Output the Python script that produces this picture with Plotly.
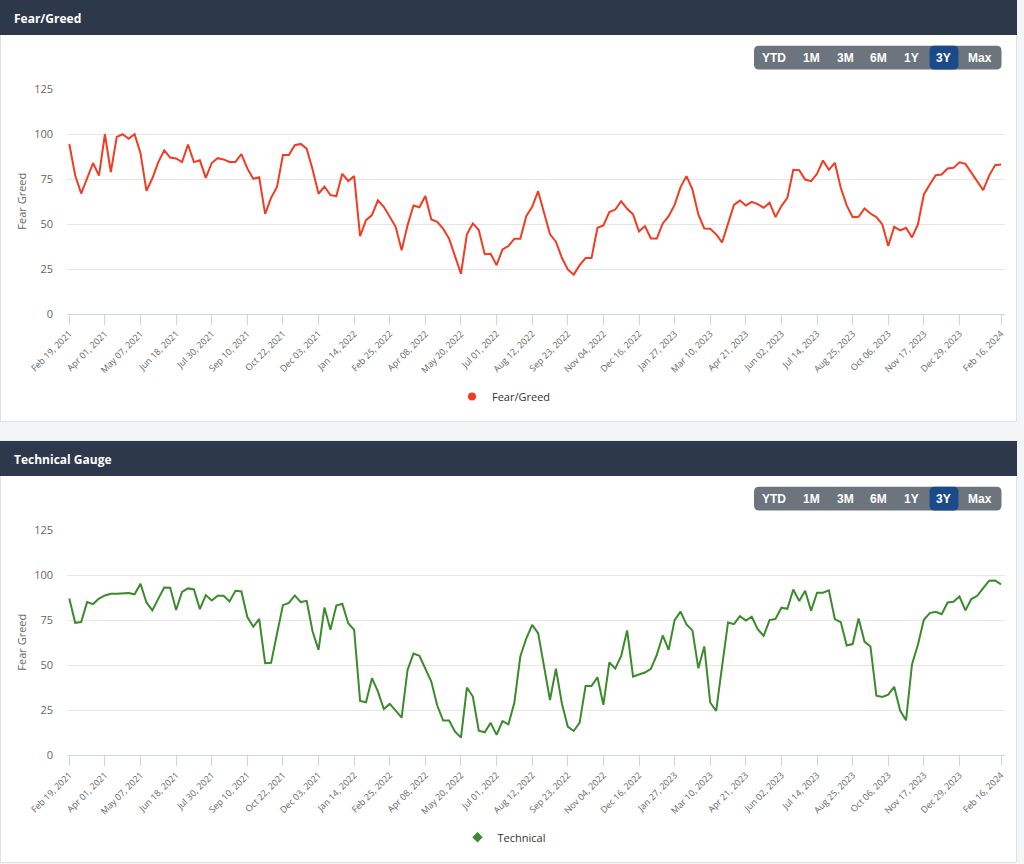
import plotly.graph_objects as go

# ---------------- data ----------------
tick_labels = ["Feb 19, 2021", "Apr 01, 2021", "May 07, 2021", "Jun 18, 2021", "Jul 30, 2021",
               "Sep 10, 2021", "Oct 22, 2021", "Dec 03, 2021", "Jan 14, 2022", "Feb 25, 2022",
               "Apr 08, 2022", "May 20, 2022", "Jul 01, 2022", "Aug 12, 2022", "Sep 23, 2022",
               "Nov 04, 2022", "Dec 16, 2022", "Jan 27, 2023", "Mar 10, 2023", "Apr 21, 2023",
               "Jun 02, 2023", "Jul 14, 2023", "Aug 25, 2023", "Oct 06, 2023", "Nov 17, 2023",
               "Dec 29, 2023", "Feb 16, 2024"]
tick_weeks = [0, 6, 12, 18, 24, 30, 36, 42, 48, 54, 60, 66, 72, 78, 84, 90, 96, 102, 108,
              114, 120, 126, 132, 138, 144, 150, 157]

fear_greed = [94.6, 77, 67, 75.5, 84, 77, 100, 79, 98.5, 100, 97.5, 100, 89.5, 68.5, 75.5, 84.5,
              91, 87, 86.5, 84.5, 94.3, 84.5, 85.5, 75.7, 84, 86.7, 86, 84.6, 84.6, 89, 81, 75.2,
              76.1, 55.7, 64.6, 70.7, 88.5, 88.5, 93.9, 94.6, 92, 80.4, 66.9, 70.9, 66.1, 65.6,
              78, 74, 76.7, 43.3, 52.2, 55, 63.2, 59.6, 54.4, 48.5, 35.4, 49.3, 60.4, 59.4, 65.6,
              52.6, 51.3, 47.4, 41.9, 32.2, 22.4, 44.3, 50.4, 46.7, 33.3, 33.5, 27.2, 35.9, 37.8,
              41.9, 41.9, 54.4, 59.6, 68.3, 56.7, 44.3, 40.2, 31.3, 24.8, 21.9, 27.2, 31.1, 31.1,
              48, 49.3, 56.7, 58.1, 62.8, 58.5, 55.4, 45.9, 48.9, 42, 42, 50.4, 54.4, 60.7, 70.6,
              76.7, 69.3, 55.4, 47.6, 47.4, 44.3, 39.8, 50.7, 60.7, 63.1, 60.4, 62.4, 61.1, 59.1,
              61.9, 53.9, 60, 64.6, 80.2, 80, 74.8, 73.9, 78, 85.4, 80.2, 84.1, 70.2, 60.4, 53.9,
              54.1, 58.7, 55.9, 53.9, 49.8, 37.8, 48.5, 46.5, 48, 42.6, 49.8, 66.5, 72, 77.2,
              77.6, 80.9, 81.3, 84.4, 83.5, 78.5, 73.5, 68.9, 77, 82.8, 83.1]

technical = [87, 73.5, 73.9, 85, 83.9, 87, 88.7, 89.6, 89.6, 89.6, 90, 89.3, 95.2, 84.8, 80.4,
             86.9, 93.1, 93, 80.6, 90.6, 92.6, 92, 81.1, 88.9, 85.9, 88.5, 88.5, 85.4, 91.3, 90.9,
             76.7, 71.3, 75.7, 51.1, 51.3, 67.4, 83.3, 84.6, 88.7, 85, 85.7, 68.7, 58.5, 82, 69.6,
             83.1, 84.1, 73.3, 69.6, 30.2, 29.4, 42.8, 35.5, 25.7, 28.5, 24.8, 20.9, 47.4, 56.5,
             55.2, 48.3, 40.9, 27.6, 19.3, 19.3, 13.1, 9.8, 37.6, 32.6, 13.7, 12.8, 18, 11.3, 18.9,
             17.2, 29.3, 54.8, 64.8, 72.4, 67.8, 49.3, 30.7, 48, 28.9, 15.9, 13.5, 18.1, 38.5, 38.5,
             43.3, 28, 51.5, 48.1, 55.2, 69.3, 43.7, 44.8, 45.9, 48, 55.7, 66.5, 58.5, 75, 79.7,
             72.6, 69.3, 48.3, 60.4, 29.3, 24.6, 49.3, 73.7, 72.8, 77.2, 74.8, 76.9, 70, 66.3, 75,
             75.7, 81.9, 81.3, 92, 85.6, 91.3, 80.2, 90.2, 90.2, 91.5, 75.6, 73.9, 60.9, 61.7, 75.9,
             63.1, 60.4, 33.1, 32.4, 33.7, 38, 24.8, 19.4, 50.4, 61.3, 75.2, 78.9, 79.6, 78.3, 84.8,
             85.2, 88.1, 80.4, 86.7, 88.5, 92.8, 96.9, 97, 94.8]

weeks = list(range(len(fear_greed)))
y_ticks = [0, 25, 50, 75, 100, 125]
buttons = ["YTD", "1M", "3M", "6M", "1Y", "3Y", "Max"]
selected_button = "3Y"

# ---------------- layout helpers ----------------
W, H = 1024, 864
FONT = "Open Sans"


def px(x):
    return x / W


def py(y):
    return 1 - y / H


def rrect(x0, y0, x1, y1, r):
    rx, ry = r / W, r / H
    X0, X1 = px(x0), px(x1)
    Y0, Y1 = py(y0), py(y1)  # Y0 top (bigger), Y1 bottom
    return (f"M {X0+rx},{Y0} L {X1-rx},{Y0} Q {X1},{Y0} {X1},{Y0-ry} "
            f"L {X1},{Y1+ry} Q {X1},{Y1} {X1-rx},{Y1} L {X0+rx},{Y1} "
            f"Q {X0},{Y1} {X0},{Y1+ry} L {X0},{Y0-ry} Q {X0},{Y0} {X0+rx},{Y0} Z")


fig = go.Figure()

panels = [
    dict(name="Fear/Greed", title="Fear/Greed", values=fear_greed, color="#f23c22",
         symbol="circle", top=0, bottom=421.5, y0=314.0, y125=89.3, legend_y=396.5,
         xa="x", ya="y", legend="legend"),
    dict(name="Technical", title="Technical Gauge", values=technical, color="#3b8a2c",
         symbol="diamond", top=441, bottom=862.5, y0=755.3, y125=530.0, legend_y=837.3,
         xa="x2", ya="y2", legend="legend2"),
]

shapes = []
annotations = []
layout_extra = {}

x_left, x_right = 67.0, 1005.0
unit = (1001.0 - 69.3) / 157.0
xr = [(x_left - 69.3) / unit, 157 + (x_right - 1001.0) / unit]

for k, p in enumerate(panels):
    top = p["top"]
    # card
    shapes.append(dict(type="rect", xref="paper", yref="paper", layer="below",
                       x0=px(0.5), x1=px(1016.5), y0=py(p["bottom"]), y1=py(top),
                       fillcolor="white", line=dict(color="#dfe2e6", width=1)))
    # header
    shapes.append(dict(type="rect", xref="paper", yref="paper", layer="below",
                       x0=px(0), x1=px(1017), y0=py(top + 35), y1=py(top),
                       fillcolor="#2d384b", line=dict(width=0)))
    annotations.append(dict(xref="paper", yref="paper", x=px(12), y=py(top + 18),
                            xanchor="left", yanchor="middle", showarrow=False,
                            text=f"<b>{p['title']}</b>",
                            font=dict(family=FONT, size=12, color="white")))
    # range selector
    by0, by1 = top + 45.7, top + 69.5
    shapes.append(dict(type="path", xref="paper", yref="paper", path=rrect(754, by0, 1001.5, by1, 5),
                       fillcolor="#6c747d", line=dict(width=0), layer="above"))
    shapes.append(dict(type="path", xref="paper", yref="paper", path=rrect(929.5, by0, 958.5, by1, 5),
                       fillcolor="#1b4a8a", line=dict(width=0), layer="above"))
    centers = [773.7, 811.3, 845.0, 878.7, 911.7, 943.9, 980.0]
    for b, cx in zip(buttons, centers):
        annotations.append(dict(xref="paper", yref="paper", x=px(cx), y=py((by0 + by1) / 2),
                                xanchor="center", yanchor="middle", showarrow=False,
                                text=f"<b>{b}</b>",
                                font=dict(family="Liberation Sans", size=12, color="white")))
    # y axis title
    annotations.append(dict(xref="paper", yref="paper", x=px(22), y=py((p["y0"] + p["y125"]) / 2),
                            xanchor="center", yanchor="middle", showarrow=False, textangle=-90,
                            text="Fear Greed", font=dict(family=FONT, size=11, color="#666666")))

    xa_name = "xaxis" if k == 0 else "xaxis2"
    ya_name = "yaxis" if k == 0 else "yaxis2"
    layout_extra[xa_name] = dict(
        domain=[px(x_left), px(x_right)], range=xr, anchor=p["ya"], automargin=False,
        tickmode="array", tickvals=tick_weeks, ticktext=tick_labels, tickangle=-45,
        ticks="outside", ticklen=10, tickcolor="#ccd6eb", tickwidth=1,
        showline=True, linecolor="#ccd6eb", linewidth=1, showgrid=False, zeroline=False,
        tickfont=dict(family=FONT, size=9, color="#666666"), fixedrange=True,
    )
    layout_extra[ya_name] = dict(
        domain=[py(p["y0"]), py(p["y125"])], range=[0, 125], anchor=p["xa"], automargin=False,
        tickmode="array", tickvals=y_ticks, showgrid=True, gridcolor="#e6e6e6", gridwidth=1,
        zeroline=False, showline=False, ticks="", ticklabelstandoff=13,
        tickfont=dict(family=FONT, size=11, color="#666666"), fixedrange=True,
    )
    layout_extra[p["legend"]] = dict(
        x=px(504), y=py(p["legend_y"]), xanchor="center", yanchor="middle",
        orientation="h", bgcolor="rgba(0,0,0,0)", itemwidth=30,
        font=dict(family=FONT, size=11, color="#333333"),
    )

    fig.add_trace(go.Scatter(x=weeks, y=p["values"], mode="lines", name=p["name"],
                             line=dict(color=p["color"], width=2), showlegend=False,
                             xaxis=p["xa"], yaxis=p["ya"]))
    fig.add_trace(go.Scatter(x=[None], y=[None], mode="markers", name=p["name"],
                             marker=dict(color=p["color"], size=8, symbol=p["symbol"]),
                             xaxis=p["xa"], yaxis=p["ya"], legend=p["legend"]))

fig.update_layout(
    width=W, height=H, autosize=False,
    margin=dict(l=0, r=0, t=0, b=0, autoexpand=False),
    paper_bgcolor="#f4f5f7", plot_bgcolor="rgba(0,0,0,0)",
    shapes=shapes, annotations=annotations, showlegend=True,
    hovermode="x",
    **layout_extra,
)

fig.write_html("out.html", config={"displayModeBar": False})
